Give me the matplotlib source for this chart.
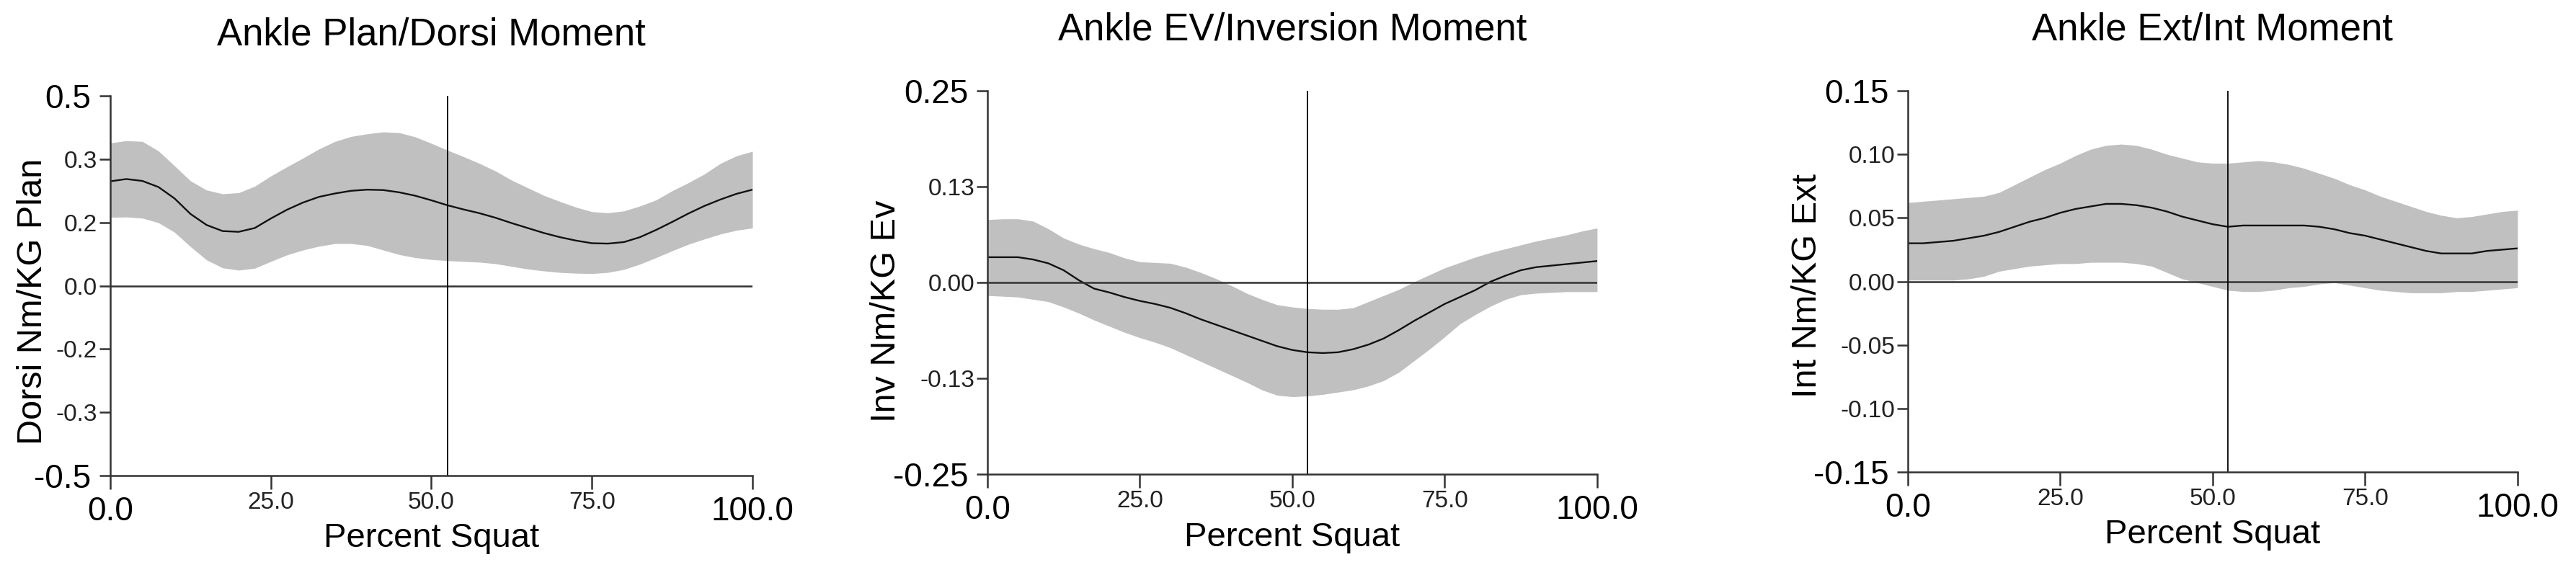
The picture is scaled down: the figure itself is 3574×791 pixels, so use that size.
import numpy as np
import matplotlib
matplotlib.use('Agg')
import matplotlib.pyplot as plt
from matplotlib.transforms import ScaledTranslation

plt.rcParams['font.family'] = ['Liberation Sans', 'DejaVu Sans']

# percent of squat, sampled every 2.5 %
pct = np.arange(0, 100.1, 2.5)
event_pct = 52.5

titles = ["Ankle Plan/Dorsi Moment", "Ankle EV/Inversion Moment", "Ankle Ext/Int Moment"]
ylabels = ["Dorsi Nm/KG Plan", "Inv Nm/KG Ev", "Int Nm/KG Ext"]
ylims = [(-0.5, 0.5), (-0.25, 0.25), (-0.15, 0.15)]
ytick_labels = [['-0.5', '-0.3', '-0.2', '0.0', '0.2', '0.3', '0.5'],
                ['-0.25', '-0.13', '0.00', '0.13', '0.25'],
                ['-0.15', '-0.10', '-0.05', '0.00', '0.05', '0.10', '0.15']]
xtick_vals = [0, 25, 50, 75, 100]
xtick_labels = ['0.0', '25.0', '50.0', '75.0', '100.0']

# plantar/dorsi flexion moment
pd_mean = [.275, .281, .276, .260, .230, .189, .160, .144, .142, .152, .177, .200, .219, .234,
           .243, .250, .253, .252, .246, .237, .225, .212, .201, .191, .179, .165, .152, .139,
           .128, .119, .112, .111, .115, .128, .147, .168, .190, .210, .227, .242, .253]
pd_upper = [.376, .382, .380, .355, .316, .276, .252, .242, .245, .262, .289, .313, .336, .360,
            .380, .393, .400, .405, .403, .392, .375, .357, .340, .322, .302, .278, .258, .238,
            .222, .207, .195, .192, .197, .210, .226, .250, .271, .294, .322, .342, .354]
pd_lower = [.180, .181, .178, .166, .141, .103, .068, .047, .041, .046, .064, .081, .094, .104,
            .111, .111, .106, .094, .082, .074, .069, .066, .064, .062, .058, .051, .044, .039,
            .035, .033, .032, .035, .043, .057, .074, .092, .109, .123, .136, .146, .152]

# eversion/inversion moment
ei_mean = [.033, .033, .033, .030, .025, .016, .003, -.008, -.013, -.019, -.024, -.028, -.033,
           -.040, -.048, -.055, -.062, -.069, -.076, -.083, -.088, -.091, -.092, -.091, -.087,
           -.081, -.073, -.062, -.050, -.039, -.028, -.019, -.010, .001, .009, .016, .020, .022,
           .024, .026, .028]
ei_upper = [.082, .083, .083, .080, .070, .058, .050, .044, .039, .032, .027, .026, .025, .020,
            .013, .005, -.004, -.014, -.022, -.029, -.032, -.034, -.035, -.035, -.033, -.025,
            -.017, -.009, .001, .010, .019, .026, .033, .039, .044, .049, .054, .058, .062, .067,
            .071]
ei_lower = [-.017, -.018, -.019, -.022, -.025, -.032, -.040, -.049, -.057, -.065, -.072, -.078,
            -.085, -.094, -.103, -.112, -.121, -.130, -.140, -.147, -.149, -.148, -.146, -.143,
            -.140, -.135, -.128, -.117, -.102, -.087, -.071, -.054, -.042, -.031, -.022, -.016,
            -.014, -.013, -.012, -.012, -.012]

# external/internal rotation moment
ie_mean = [.030, .030, .031, .032, .034, .036, .039, .043, .047, .050, .054, .057, .059, .061,
           .061, .060, .058, .055, .051, .048, .045, .043, .044, .044, .044, .044, .044, .043,
           .041, .038, .036, .033, .030, .027, .024, .022, .022, .022, .024, .025, .026]
ie_upper = [.062, .063, .064, .065, .066, .067, .070, .076, .082, .088, .093, .099, .104, .107,
            .108, .107, .104, .100, .097, .094, .093, .093, .094, .095, .094, .092, .089, .085,
            .081, .076, .072, .067, .063, .059, .055, .052, .050, .051, .053, .055, .056]
ie_lower = [.001, .001, .001, .001, .002, .004, .008, .010, .012, .013, .014, .014, .015, .015,
            .015, .014, .012, .007, .002, -.001, -.004, -.007, -.008, -.008, -.007, -.005, -.004,
            -.002, -.001, -.003, -.005, -.007, -.008, -.009, -.009, -.009, -.008, -.008, -.007,
            -.006, -.005]

means = [pd_mean, ei_mean, ie_mean]
uppers = [pd_upper, ei_upper, ie_upper]
lowers = [pd_lower, ei_lower, ie_lower]

# axes rectangles in figure fraction (left, bottom, width, height)
rects = [[0.0428, 0.1656, 0.2493, 0.6662],
         [0.3833, 0.1681, 0.2367, 0.6726],
         [0.7406, 0.1719, 0.2367, 0.6688]]
ylabel_xy = [(-0.1066, 0.459), (-0.1513, 0.425), (-0.150, 0.488)]

axcol = '#333333'
fig = plt.figure(figsize=(35.74, 7.91), dpi=100)

for i in range(3):
    ax = fig.add_axes(rects[i])
    ax.fill_between(pct, lowers[i], uppers[i], color='#c0c0c0', lw=0)
    ax.plot(pct, means[i], color='#111111', lw=1.7)
    ax.axhline(0, color=axcol, lw=1.8)
    ax.axvline(event_pct, color='black', lw=1.3)

    ax.set_xlim(0, 100)
    ax.set_ylim(*ylims[i])
    ax.spines[['top', 'right']].set_visible(False)
    ax.spines[['left', 'bottom']].set_linewidth(1.8)
    ax.spines[['left', 'bottom']].set_color(axcol)

    ax.set_xticks(xtick_vals)
    ax.set_xticklabels(xtick_labels)
    yt = np.linspace(ylims[i][0], ylims[i][1], len(ytick_labels[i]))
    ax.set_yticks(yt)
    ax.set_yticklabels(ytick_labels[i])
    ax.tick_params(axis='x', length=13.7, width=1.8, color=axcol, pad=2, labelsize=24,
                   labelcolor='#222222')
    ax.tick_params(axis='y', length=10.8, width=1.8, color=axcol, pad=2, labelsize=24,
                   labelcolor='#222222')

    # end labels are drawn larger and pushed further out
    xl = ax.get_xticklabels()
    for lab in (xl[0], xl[-1]):
        lab.set_fontsize(33)
        lab.set_color('black')
        lab.set_transform(lab.get_transform() + ScaledTranslation(0, -0.06, fig.dpi_scale_trans))
    yl = ax.get_yticklabels()
    for lab in (yl[0], yl[-1]):
        lab.set_fontsize(33)
        lab.set_color('black')
        lab.set_transform(lab.get_transform() + ScaledTranslation(-0.09, 0, fig.dpi_scale_trans))

    ax.set_title(titles[i], fontsize=38, pad=50.5)
    ax.set_xlabel('Percent Squat', fontsize=34, va='baseline')
    ax.xaxis.set_label_coords(0.5, -0.188)
    ax.set_ylabel(ylabels[i], fontsize=35, va='baseline')
    ax.yaxis.set_label_coords(*ylabel_xy[i])

fig.savefig('out.png', dpi=100)
